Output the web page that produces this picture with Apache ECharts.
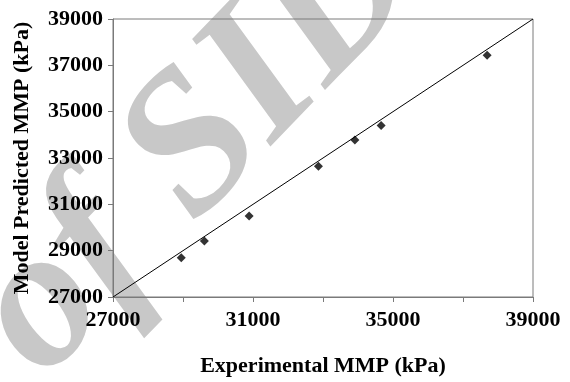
<!DOCTYPE html>
<html>
<head>
<meta charset="utf-8">
<script src="https://cdn.jsdelivr.net/npm/echarts@6/dist/echarts.min.js"></script>
<style>
  html, body { margin: 0; padding: 0; background: #fff; }
  #chart { width: 570px; height: 382px; }
</style>
</head>
<body>
<div id="chart"></div>
<script>
// measured vs predicted MMP (kPa)
const experimental = [28950, 29610, 30890, 32870, 33910, 34660, 37690];
const predicted = [28690, 29420, 30500, 32640, 33780, 34400, 37440];
// y = x reference line end points
const lineEnds = [27000, 39000];

const font = "'Liberation Serif', 'Times New Roman', serif";

const chart = echarts.init(document.getElementById("chart"));

chart.setOption({
  animation: false,
  backgroundColor: "#ffffff",
  grid: {
    left: 113,
    right: 37,
    top: 19,
    bottom: 85,
    outerBoundsMode: "none",
    show: true,
    borderColor: "#7a7a7a",
    borderWidth: 1,
  },
  graphic: [
    {
      // watermark behind the plot
      type: "text",
      x: 198,
      y: 147,
      z: -10,
      rotation: (46 * Math.PI) / 180,
      style: {
        text: "of SID",
        font: "italic bold 200px " + font,
        fill: "#c8c8c8",
        align: "center",
        verticalAlign: "middle",
      },
    },
  ],
  xAxis: {
    type: "value",
    min: 27000,
    max: 39000,
    interval: 2000,
    name: "Experimental MMP (kPa)",
    nameLocation: "middle",
    nameGap: 58,
    nameTextStyle: { fontFamily: font, fontWeight: "bold", fontSize: 22, color: "#000" },
    axisLine: { lineStyle: { color: "#7a7a7a", width: 1 } },
    axisTick: { show: true, length: 5, lineStyle: { color: "#7a7a7a" } },
    splitLine: { show: false },
    axisLabel: {
      fontFamily: font,
      fontWeight: "bold",
      fontSize: 22,
      color: "#000",
      margin: 12,
      formatter: (v) => ((v - 27000) % 4000 === 0 ? String(v) : ""),
    },
  },
  yAxis: {
    type: "value",
    min: 27000,
    max: 39000,
    interval: 2000,
    name: "Model Predicted MMP (kPa)",
    nameLocation: "middle",
    nameGap: 80,
    nameTextStyle: { fontFamily: font, fontWeight: "bold", fontSize: 22, color: "#000" },
    axisLine: { show: true, lineStyle: { color: "#7a7a7a", width: 1 } },
    axisTick: { show: true, length: 5, lineStyle: { color: "#7a7a7a" } },
    splitLine: { show: false },
    axisLabel: {
      fontFamily: font,
      fontWeight: "bold",
      fontSize: 22,
      color: "#000",
      margin: 10,
      formatter: (v) => String(v),
    },
  },
  series: [
    {
      type: "line",
      data: lineEnds.map((v) => [v, v]),
      symbol: "none",
      lineStyle: { color: "#000", width: 1 },
      z: 2,
    },
    {
      type: "scatter",
      data: experimental.map((x, i) => [x, predicted[i]]),
      symbol: "diamond",
      symbolSize: 9,
      itemStyle: { color: "#000" },
      z: 3,
    },
  ],
});
</script>
</body>
</html>
